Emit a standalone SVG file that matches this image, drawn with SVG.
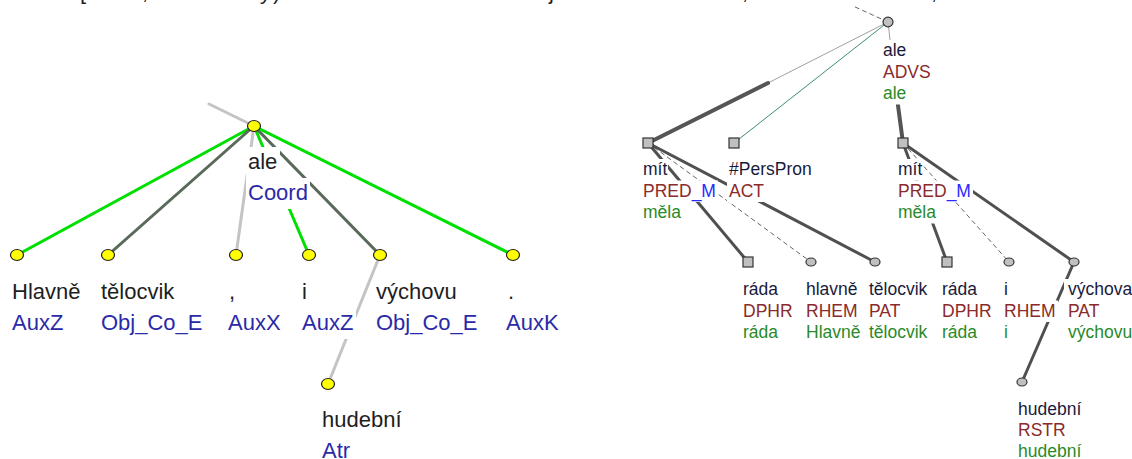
<svg xmlns="http://www.w3.org/2000/svg" width="1132" height="459" viewBox="0 0 1132 459">
<style>
text{font-family:"Liberation Sans",Arial,sans-serif}
.L{font-size:22px}
.R{font-size:17.5px}
.k{fill:#1e1e1e}
.b{fill:#2a2aa8}
.n{fill:#1a1a3c}
.f{fill:#8b2a2a}
.g{fill:#2a8a2a}
.u{fill:#2a2aff}
.bg{fill:#fff}
.yn{fill:#ffff00;stroke:#222;stroke-width:1.2}
.gn{fill:#c0c0c0;stroke:#333;stroke-width:1.2}
.e{fill:none;stroke-linecap:round}
.lg{stroke:#00e000;stroke-width:3}
.ld{stroke:#5a6a5a;stroke-width:3}
.lc{stroke:#c4c4c4;stroke-width:3}
.rt{stroke:#505050;stroke-width:3}
.rT{stroke:#555;stroke-width:4}
.rs{stroke:#a0a0a0;stroke-width:1}
.rd{stroke:#666;stroke-width:1;stroke-dasharray:4 4}
</style>

<g id="top-fragments" class="L k">
<text x="80" y="-1">[</text>
<text x="142" y="-1">,</text>
<text x="260" y="-1">y</text>
<text x="273" y="-1">)</text>
<text x="549" y="-1">j</text>
<text x="742" y="-1">,</text>
<text x="931" y="-1">,</text>
</g>

<g id="connectors">
<line class="e lc" x1="254" y1="126" x2="209" y2="104"/>
<line class="e lg" x1="254" y1="126" x2="17" y2="255"/>
<line class="e ld" x1="254" y1="126" x2="108" y2="255"/>
<line class="e lc" x1="254" y1="126" x2="236" y2="255"/>
<line class="e lg" x1="254" y1="126" x2="309" y2="255"/>
<line class="e ld" x1="254" y1="126" x2="380" y2="255"/>
<line class="e lg" x1="254" y1="126" x2="513" y2="255"/>
<line class="e lc" x1="380" y1="255" x2="328" y2="384"/>
<line class="e rd" x1="888" y1="22" x2="853" y2="6"/>
<line class="e rs" x1="888" y1="22" x2="768" y2="83"/>
<line class="e rT" x1="768" y1="83" x2="648" y2="143"/>
<line class="e" stroke="#3c8c78" stroke-width="1" x1="888" y1="22" x2="734" y2="143"/>
<line class="e rs" x1="888" y1="22" x2="895" y2="83"/>
<line class="e rT" x1="895" y1="83" x2="903" y2="143"/>
<line class="e rt" x1="648" y1="143" x2="748" y2="262"/>
<line class="e rd" x1="648" y1="143" x2="811" y2="262"/>
<line class="e rt" x1="648" y1="143" x2="875" y2="262"/>
<line class="e rt" x1="903" y1="143" x2="947" y2="262"/>
<line class="e rd" x1="903" y1="143" x2="1009" y2="262"/>
<line class="e rt" x1="903" y1="143" x2="1074" y2="262"/>
<line class="e rt" x1="1074" y1="262" x2="1022" y2="382"/>
</g>

<g id="l-ale">
<ellipse class="yn" cx="254" cy="126" rx="6.5" ry="5.5"/>
<rect class="bg" x="246" y="147" width="34" height="31"/>
<rect class="bg" x="246" y="178" width="64" height="31"/>
<text class="L k" x="248" y="169">ale</text>
<text class="L b" x="248" y="200">Coord</text>
</g>
<g id="l-hlavne">
<ellipse class="yn" cx="17" cy="255" rx="6.5" ry="5.5"/>
<rect class="bg" x="10" y="277" width="73" height="31"/>
<rect class="bg" x="10" y="308" width="56" height="31"/>
<text class="L k" x="12" y="299">Hlavně</text>
<text class="L b" x="12" y="330">AuxZ</text>
</g>
<g id="l-telocvik">
<ellipse class="yn" cx="108" cy="255" rx="6.5" ry="5.5"/>
<rect class="bg" x="99" y="277" width="78" height="31"/>
<rect class="bg" x="99" y="308" width="106" height="31"/>
<text class="L k" x="101" y="299">tělocvik</text>
<text class="L b" x="101" y="330">Obj_Co_E</text>
</g>
<g id="l-comma">
<ellipse class="yn" cx="236" cy="255" rx="6.5" ry="5.5"/>
<rect class="bg" x="227" y="277" width="10" height="31"/>
<rect class="bg" x="226" y="308" width="57" height="31"/>
<text class="L k" x="229" y="299">,</text>
<text class="L b" x="228" y="330">AuxX</text>
</g>
<g id="l-i">
<ellipse class="yn" cx="309" cy="255" rx="6.5" ry="5.5"/>
<rect class="bg" x="300" y="277" width="9" height="31"/>
<rect class="bg" x="300" y="308" width="56" height="31"/>
<text class="L k" x="302" y="299">i</text>
<text class="L b" x="302" y="330">AuxZ</text>
</g>
<g id="l-vychovu">
<ellipse class="yn" cx="380" cy="255" rx="6.5" ry="5.5"/>
<rect class="bg" x="374" y="277" width="85" height="31"/>
<rect class="bg" x="374" y="308" width="106" height="31"/>
<text class="L k" x="376" y="299">výchovu</text>
<text class="L b" x="376" y="330">Obj_Co_E</text>
</g>
<g id="l-period">
<ellipse class="yn" cx="513" cy="255" rx="6.5" ry="5.5"/>
<text class="L k" x="508" y="299">.</text>
<text class="L b" x="506" y="330">AuxK</text>
</g>
<g id="l-hudebni">
<ellipse class="yn" cx="328" cy="384" rx="6.5" ry="5.5"/>
<rect class="bg" x="320" y="405" width="82" height="31"/>
<rect class="bg" x="320" y="436" width="32" height="23"/>
<text class="L k" x="322" y="427">hudební</text>
<text class="L b" x="322" y="458">Atr</text>
</g>

<g id="r-ale">
<ellipse class="gn" cx="888" cy="22" rx="5" ry="4.8"/>
<rect class="bg" x="881" y="40" width="28" height="21.5"/>
<rect class="bg" x="881" y="61.5" width="52" height="21.5"/>
<rect class="bg" x="881" y="83" width="28" height="21.5"/>
<text class="R n" x="883" y="56">ale</text>
<text class="R f" x="883" y="78">ADVS</text>
<text class="R g" x="883" y="99">ale</text>
</g>
<g id="r-mit1">
<rect class="gn" x="643" y="138" width="10" height="10"/>
<rect class="bg" x="641" y="159" width="27" height="21.5"/>
<rect class="bg" x="641" y="180.5" width="77" height="21.5"/>
<rect class="bg" x="641" y="202" width="42" height="21.5"/>
<text class="R n" x="643" y="175">mít</text>
<text class="R" x="643" y="197"><tspan class="f">PRED</tspan><tspan class="u">_M</tspan></text>
<text class="R g" x="643" y="218">měla</text>
</g>
<g id="r-perspron">
<rect class="gn" x="729" y="138" width="10" height="10"/>
<rect class="bg" x="727" y="159" width="87" height="21.5"/>
<rect class="bg" x="727" y="180.5" width="39" height="21.5"/>
<text class="R n" x="729" y="175">#PersPron</text>
<text class="R f" x="729" y="197">ACT</text>
</g>
<g id="r-mit2">
<rect class="gn" x="898" y="138" width="10" height="10"/>
<rect class="bg" x="896" y="159" width="27" height="21.5"/>
<rect class="bg" x="896" y="180.5" width="77" height="21.5"/>
<rect class="bg" x="896" y="202" width="42" height="21.5"/>
<text class="R n" x="898" y="175">mít</text>
<text class="R" x="898" y="197"><tspan class="f">PRED</tspan><tspan class="u">_M</tspan></text>
<text class="R g" x="898" y="218">měla</text>
</g>
<g id="r-rada1">
<rect class="gn" x="743" y="257" width="10" height="10"/>
<rect class="bg" x="741" y="279" width="39" height="21.5"/>
<rect class="bg" x="741" y="300.5" width="54" height="21.5"/>
<rect class="bg" x="741" y="322" width="39" height="21.5"/>
<text class="R n" x="743" y="295">ráda</text>
<text class="R f" x="743" y="317">DPHR</text>
<text class="R g" x="743" y="338">ráda</text>
</g>
<g id="r-hlavne">
<ellipse class="gn" cx="811" cy="262" rx="5" ry="4"/>
<rect class="bg" x="804" y="279" width="56" height="21.5"/>
<rect class="bg" x="804" y="300.5" width="56" height="21.5"/>
<rect class="bg" x="804" y="322" width="59" height="21.5"/>
<text class="R n" x="806" y="295">hlavně</text>
<text class="R f" x="806" y="317">RHEM</text>
<text class="R g" x="806" y="338">Hlavně</text>
</g>
<g id="r-telocvik">
<ellipse class="gn" cx="875" cy="262" rx="5" ry="4"/>
<rect class="bg" x="867" y="279" width="62" height="21.5"/>
<rect class="bg" x="867" y="300.5" width="38" height="21.5"/>
<rect class="bg" x="867" y="322" width="62" height="21.5"/>
<text class="R n" x="869" y="295">tělocvik</text>
<text class="R f" x="869" y="317">PAT</text>
<text class="R g" x="869" y="338">tělocvik</text>
</g>
<g id="r-rada2">
<rect class="gn" x="942" y="257" width="10" height="10"/>
<rect class="bg" x="940" y="279" width="39" height="21.5"/>
<rect class="bg" x="940" y="300.5" width="54" height="21.5"/>
<rect class="bg" x="940" y="322" width="39" height="21.5"/>
<text class="R n" x="942" y="295">ráda</text>
<text class="R f" x="942" y="317">DPHR</text>
<text class="R g" x="942" y="338">ráda</text>
</g>
<g id="r-i">
<ellipse class="gn" cx="1009" cy="262" rx="5" ry="4"/>
<rect class="bg" x="1002" y="279" width="9" height="21.5"/>
<rect class="bg" x="1002" y="300.5" width="56" height="21.5"/>
<rect class="bg" x="1002" y="322" width="9" height="21.5"/>
<text class="R n" x="1004" y="295">i</text>
<text class="R f" x="1004" y="317">RHEM</text>
<text class="R g" x="1004" y="338">i</text>
</g>
<g id="r-vychova">
<ellipse class="gn" cx="1074" cy="262" rx="5" ry="4"/>
<rect class="bg" x="1064" y="279" width="68" height="21.5"/>
<rect class="bg" x="1064" y="300.5" width="40" height="21.5"/>
<rect class="bg" x="1064" y="322" width="68" height="21.5"/>
<text class="R n" x="1068" y="295">výchova</text>
<text class="R f" x="1068" y="317">PAT</text>
<text class="R g" x="1068" y="338">výchovu</text>
</g>
<g id="r-hudebni">
<ellipse class="gn" cx="1022" cy="382" rx="5" ry="4"/>
<rect class="bg" x="1016" y="399" width="66" height="21.5"/>
<rect class="bg" x="1016" y="420.5" width="52" height="21.5"/>
<rect class="bg" x="1016" y="442" width="66" height="17"/>
<text class="R n" x="1018" y="415">hudební</text>
<text class="R f" x="1018" y="436">RSTR</text>
<text class="R g" x="1018" y="457">hudební</text>
</g>
</svg>
